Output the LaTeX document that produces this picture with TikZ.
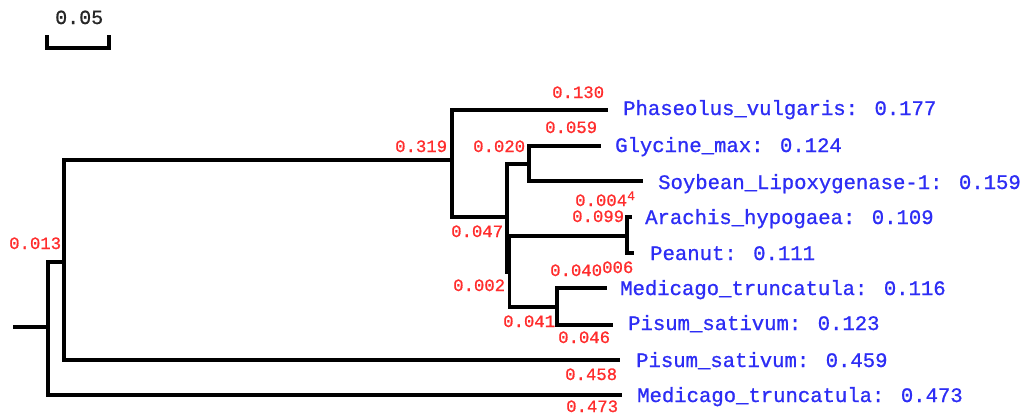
\documentclass[tikz,border=0pt]{standalone}
\usepackage{fontspec}
\newfontfamily\treefont[RawFeature={embolden=0.9}]{Liberation Mono}
\definecolor{leafblue}{RGB}{45,45,245}
\definecolor{lenred}{RGB}{255,45,45}
\tikzset{
  branch/.style={line width=3.2pt, line join=miter},
  leaf/.style={anchor=west, inner sep=0pt, text=leafblue,
    font=\treefont\fontsize{20.6}{20.6}\selectfont, text height=0.6em, text depth=0pt},
  blen/.style={anchor=west, inner sep=0pt, text=lenred,
    font=\treefont\fontsize{17.3}{17.3}\selectfont, text height=0.6em, text depth=0pt},
  scalelbl/.style={anchor=west, inner sep=0pt, text=black!85,
    font=\treefont\fontsize{20}{20}\selectfont, text height=0.6em, text depth=0pt},
}
\begin{document}
\begin{tikzpicture}[x=1pt,y=-1pt]
\fill[white] (0,0) rectangle (1020,415);
\useasboundingbox (0,0) rectangle (1020,415);

% scale bar
\coordinate (sbL) at (47,35);
\coordinate (sbR) at (109,35);
\draw[branch] (sbL) -- ++(0,13) -| (sbR);
\node[scalelbl] (sblabel) at (55,21) {0.05};

% internal nodes
\coordinate (stub) at (13,327);
\coordinate (n0) at (48,327);
\coordinate (n1) at (64,262);
\coordinate (nA) at (452,160);
\coordinate (nB) at (507,217);
\coordinate (nC) at (529,164);
\coordinate (nD) at (509.5,272);
\coordinate (nE) at (557,307);
\coordinate (nF) at (627,236);

% tips
\coordinate (t1) at (608,110);
\coordinate (t2) at (601,146);
\coordinate (t3) at (643,181);
\coordinate (t4) at (632,217);
\coordinate (t5) at (634,253);
\coordinate (t6) at (607,288);
\coordinate (t7) at (613,325);
\coordinate (t8) at (620,360);
\coordinate (t9) at (622,395);

% branches
\draw[branch] (stub) -- (n0);
\draw[branch] (n0) |- (n1);
\draw[branch] (n0) |- (t9);
\draw[branch] (n1) |- (nA);
\draw[branch] (n1) |- (t8);
\draw[branch] (nA) |- (t1);
\draw[branch] (nA) |- (nB);
\draw[branch] (nB) |- (nC);
\draw[branch] (nB) |- (nD);
\draw[branch] (nC) |- (t2);
\draw[branch] (nC) |- (t3);
\draw[branch] (nD) |- (nF);
\draw[branch] (nD) |- (nE);
\draw[branch] (nF) |- (t4);
\draw[branch] (nF) |- (t5);
\draw[branch] (nE) |- (t6);
\draw[branch] (nE) |- (t7);

% leaf labels
\node[leaf] (l1) at (623,112) {Phaseolus\_vulgaris: 0.177};
\node[leaf] (l2) at (615,149) {Glycine\_max: 0.124};
\node[leaf] (l3) at (658,186) {Soybean\_Lipoxygenase-1: 0.159};
\node[leaf] (l4) at (645,221) {Arachis\_hypogaea: 0.109};
\node[leaf] (l5) at (650,257) {Peanut: 0.111};
\node[leaf] (l6) at (620,292) {Medicago\_truncatula: 0.116};
\node[leaf] (l7) at (628,327) {Pisum\_sativum: 0.123};
\node[leaf] (l8) at (636,364) {Pisum\_sativum: 0.459};
\node[leaf] (l9) at (637,399) {Medicago\_truncatula: 0.473};

% branch lengths
\node[blen] (b1) at (552,95) {0.130};
\node[blen] (b2) at (395,149) {0.319};
\node[blen] (b3) at (473,149) {0.020};
\node[blen] (b4) at (545,130) {0.059};
\node[blen] (b5) at (575,203) {0.004};
\node[blen, font=\treefont\fontsize{13}{13}\selectfont] (b5b) at (627,197) {4};
\node[blen] (b6) at (572,219) {0.099};
\node[blen] (b7) at (451,234) {0.047};
\node[blen] (b8) at (550,273) {0.040};
\node[blen] (b8b) at (602,270) {006};
\node[blen] (b9) at (453,288) {0.002};
\node[blen] (b10) at (503,324) {0.041};
\node[blen] (b11) at (558,340) {0.046};
\node[blen] (b12) at (565,377) {0.458};
\node[blen] (b13) at (566,409) {0.473};
\node[blen] (b14) at (9,246) {0.013};
\end{tikzpicture}
\end{document}
